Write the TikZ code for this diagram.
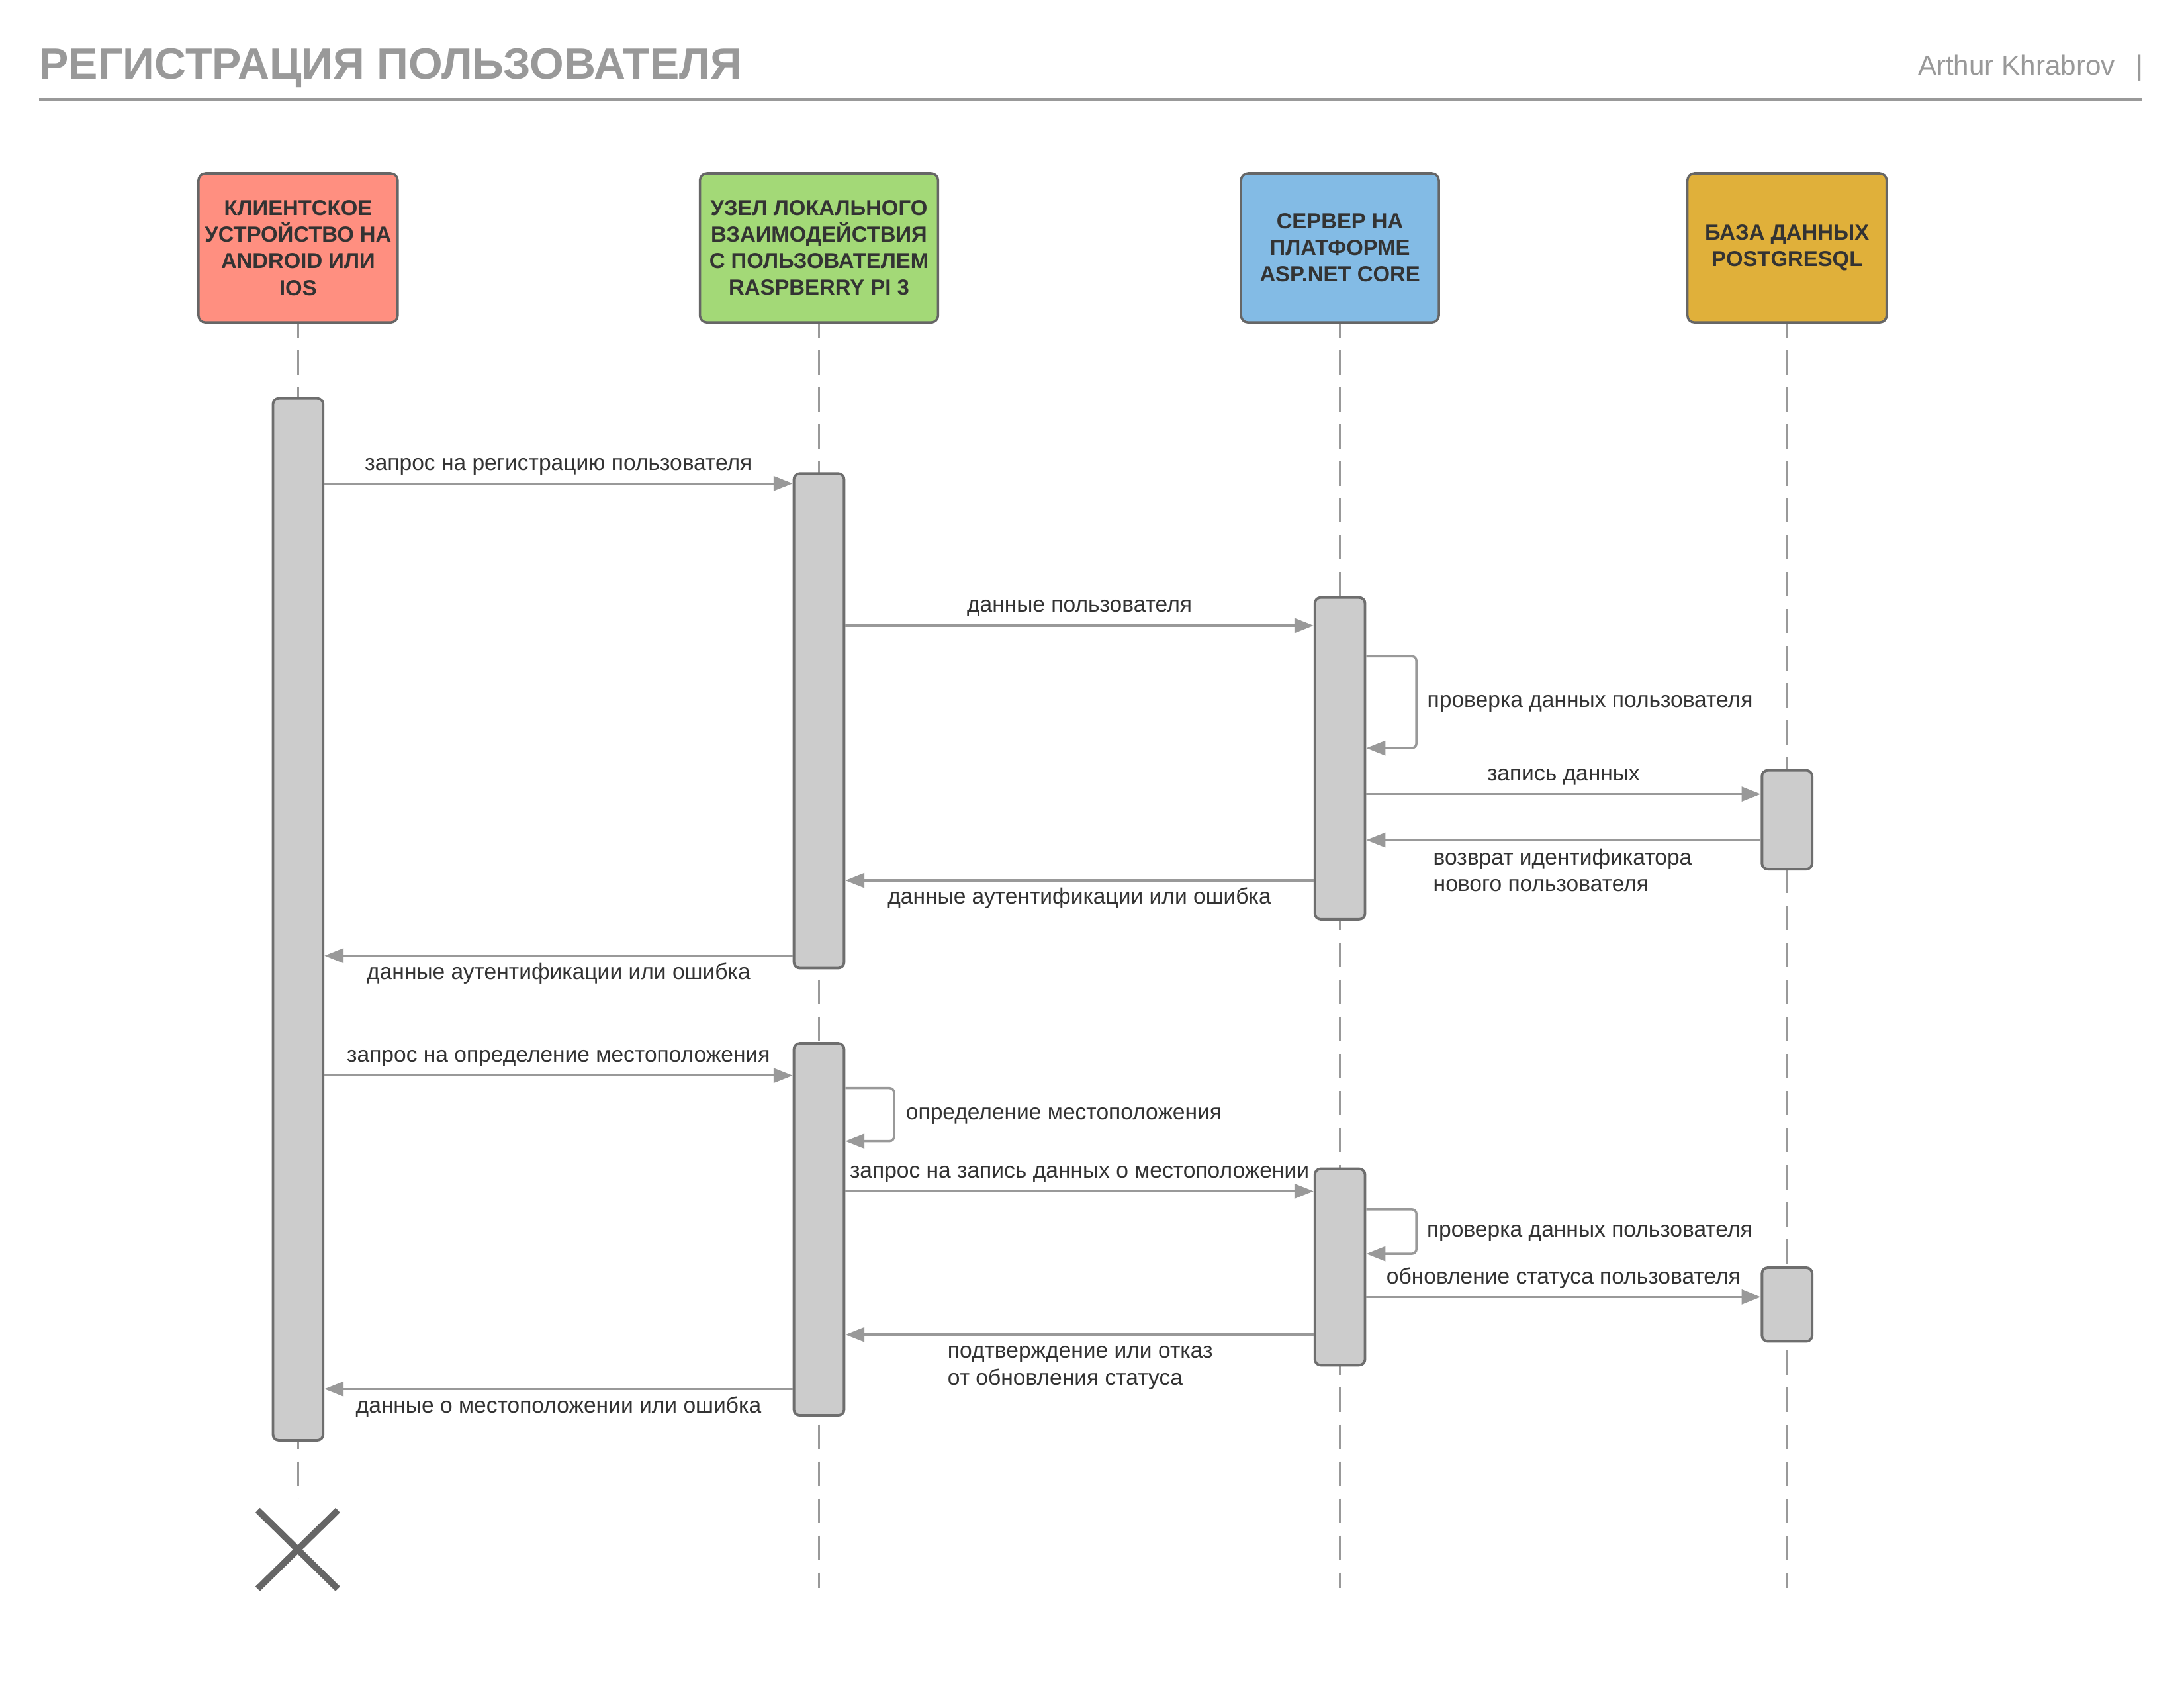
\documentclass[tikz,border=0pt]{standalone}
\usepackage{fontspec}
\setmainfont{Liberation Sans}
\usetikzlibrary{arrows.meta}
\def\dpx{0.21046mm}
\definecolor{clientred}{HTML}{FF8F80}
\definecolor{nodegreen}{HTML}{A3D977}
\definecolor{serverblue}{HTML}{83BBE5}
\definecolor{dbyellow}{HTML}{E0B03A}
\colorlet{boxline}{black!60}
\colorlet{actfill}{black!20}
\colorlet{actline}{black!57}
\colorlet{lifegray}{black!40}
\colorlet{arrowgray}{black!40}
\colorlet{labeltext}{black!80}
\colorlet{headgray}{black!40}
\tikzset{>={Triangle[length=8.2pt,width=6.2pt]}}
\tikzset{
  actor/.style = {draw=boxline, line width=1pt, rounded corners=3pt,
    minimum width=143*\dpx, minimum height=107*\dpx, inner sep=0pt,
    align=center, text=labeltext, font=\bfseries\fontsize{9.35}{11.4}\selectfont},
  act/.style = {draw=actline, line width=1.1pt, fill=actfill, rounded corners=2.5pt,
    minimum width=36*\dpx, inner sep=0pt, anchor=north},
  lifeline/.style = {draw=lifegray, line width=0.9pt, dash pattern=on 10.66pt off 5.27pt, dash phase=4.8pt},
  msg/.style = {draw=arrowgray, line width=1pt, ->, rounded corners=2pt},
  lbl/.style = {font=\fontsize{9.55}{11.4}\selectfont, text=labeltext, inner sep=0pt, align=left},
  destroy/.style = {draw=boxline, line width=2.8pt}
}

\begin{document}
\begin{tikzpicture}[x=0.21046mm, y=-0.21046mm]
  \useasboundingbox (0,0) rectangle (1568,1211.6);
  % header
  \node[anchor=base west, inner sep=0pt, text=headgray, font=\bfseries\fontsize{18.9}{23}\selectfont] (title) at (28,56.6) {РЕГИСТРАЦИЯ ПОЛЬЗОВАТЕЛЯ};
  \node[anchor=base east, inner sep=0pt, text=headgray, font=\fontsize{12}{14}\selectfont] (author) at (1539,54) {Arthur Khrabrov\hspace{9pt}|};
  \draw[headgray, line width=1pt] (28,71.2) -- (1538,71.2);
  % participants
  \node[actor, fill=clientred] (cli) at (214,178) {КЛИЕНТСКОЕ\\УСТРОЙСТВО НА\\ANDROID ИЛИ\\IOS};
  \node[actor, fill=nodegreen, minimum width=171*\dpx] (uz) at (588,178) {УЗЕЛ ЛОКАЛЬНОГО\\ВЗАИМОДЕЙСТВИЯ\\С ПОЛЬЗОВАТЕЛЕМ\\RASPBERRY PI 3};
  \node[actor, fill=serverblue, minimum width=142*\dpx] (srv) at (962,178) {СЕРВЕР НА\\ПЛАТФОРМЕ\\ASP.NET CORE};
  \node[actor, fill=dbyellow] (db) at (1283,178) {БАЗА ДАННЫХ\\POSTGRESQL};
  % lifelines
  \coordinate (bottom) at (0,1140);
  \coordinate (cliend) at (214,1076);
  \draw[lifeline] (cli.south) -- (cliend);
  \foreach \A in {uz,srv,db} {
    \draw[lifeline] (\A.south) -- (\A.south |- bottom);
  }
  % activations
  \node[act, minimum height=748*\dpx] (cliact) at (cli.south |- 0,285) {};
  \node[act, minimum height=355*\dpx] (uzact1) at (uz.south |- 0,339) {};
  \node[act, minimum height=231*\dpx] (srvact1) at (srv.south |- 0,428) {};
  \node[act, minimum height=71*\dpx] (dbact1) at (db.south |- 0,552) {};
  \node[act, minimum height=267*\dpx] (uzact2) at (uz.south |- 0,748) {};
  \node[act, minimum height=141*\dpx] (srvact2) at (srv.south |- 0,838) {};
  \node[act, minimum height=53*\dpx] (dbact2) at (db.south |- 0,909) {};
  % registration
  \draw[msg] (cliact.east |- 0,347) -- (uzact1.west |- 0,347)
    node[lbl, midway, above=1.8pt] {\strut запрос на регистрацию пользователя};
  \draw[msg] (uzact1.east |- 0,449) -- (srvact1.west |- 0,449)
    node[lbl, midway, above=1.8pt] {\strut данные пользователя};
  \draw[msg] (srvact1.east |- 0,471) -- ++(36,0) -- ++(0,66)
    node[lbl, midway, right=4.2pt] {\strut проверка данных пользователя} -- (srvact1.east |- 0,537);
  \draw[msg] (srvact1.east |- 0,570) -- (dbact1.west |- 0,570)
    node[lbl, midway, above=1.8pt] {\strut запись данных};
  \draw[msg] (dbact1.west |- 0,603) -- (srvact1.east |- 0,603)
    node[lbl, pos=0.833, anchor=north west, yshift=-2.2pt] {\strut возврат идентификатора\\нового пользователя};
  \draw[msg] (srvact1.west |- 0,632) -- (uzact1.east |- 0,632)
    node[lbl, midway, below=1.7pt] {\strut данные аутентификации или ошибка};
  \draw[msg] (uzact1.west |- 0,686) -- (cliact.east |- 0,686)
    node[lbl, midway, below=1.7pt] {\strut данные аутентификации или ошибка};
  % location
  \draw[msg] (cliact.east |- 0,772) -- (uzact2.west |- 0,772)
    node[lbl, midway, above=1.8pt] {\strut запрос на определение местоположения};
  \draw[msg] (uzact2.east |- 0,781) -- ++(35,0) -- ++(0,38)
    node[lbl, midway, right=4.6pt] {\strut определение местоположения} -- (uzact2.east |- 0,819);
  \draw[msg] (uzact2.east |- 0,855) -- (srvact2.west |- 0,855)
    node[lbl, midway, above=1.8pt] {\strut запрос на запись данных о местоположении};
  \draw[msg] (srvact2.east |- 0,868) -- ++(36,0) -- ++(0,32)
    node[lbl, midway, right=4.0pt] {\strut проверка данных пользователя} -- (srvact2.east |- 0,900);
  \draw[msg] (srvact2.east |- 0,931) -- (dbact2.west |- 0,931)
    node[lbl, midway, above=1.8pt] {\strut обновление статуса пользователя};
  \draw[msg] (srvact2.west |- 0,958) -- (uzact2.east |- 0,958)
    node[lbl, pos=0.784, anchor=north west, yshift=-1.7pt] {\strut подтверждение или отказ\\от обновления статуса};
  \draw[msg] (uzact2.west |- 0,997) -- (cliact.east |- 0,997)
    node[lbl, midway, below=1.7pt] {\strut данные о местоположении или ошибка};
  % end of client
  \draw[destroy] (185,1084) -- (242.5,1140.5) (242.5,1084) -- (185,1140.5);
\end{tikzpicture}
\end{document}
